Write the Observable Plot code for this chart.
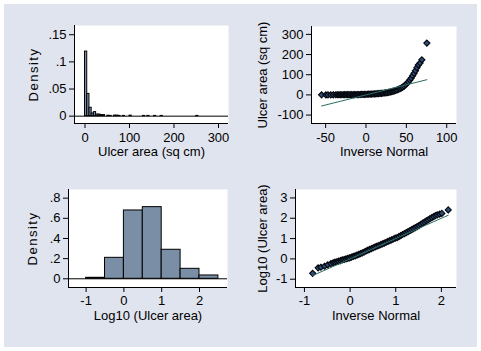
<!DOCTYPE html>
<html>
<head>
<meta charset="utf-8">
<script src="https://cdn.jsdelivr.net/npm/d3@7"></script>
<script src="https://cdn.jsdelivr.net/npm/@observablehq/plot@0.6"></script>
<style>
  html, body { margin: 0; padding: 0; background: #ffffff; }
  #wrap { position: relative; width: 481px; height: 351px; background: #ffffff; overflow: hidden; }
  #bg { position: absolute; left: 4px; top: 4px; width: 473px; height: 343px; background: #e0e4ef; }
  .panel { position: absolute; }
  #p1 { left: 0px; top: 0px; }
  #p2 { left: 240px; top: 0px; }
  #p3 { left: 0px; top: 175px; }
  #p4 { left: 240px; top: 175px; }
  #p1 g[aria-label="y-axis label"] text, #p3 g[aria-label="y-axis label"] text { letter-spacing: 1.5px; }
</style>
</head>
<body>
<div id="wrap">
  <div id="bg"></div>
  <div id="p1" class="panel"></div>
  <div id="p2" class="panel"></div>
  <div id="p3" class="panel"></div>
  <div id="p4" class="panel"></div>
</div>
<script>
// ---------- Data ----------
// Panel 1: histogram of ulcer area (sq cm), density per bin
const areaBinLo   = [0, 5, 10, 15, 20, 25, 30, 35, 40, 50, 55, 65, 70, 75, 85, 100, 130, 140, 155, 170, 250];
const areaBinHi   = [5, 10, 15, 20, 25, 30, 35, 40, 45, 55, 60, 70, 75, 80, 90, 105, 135, 145, 160, 175, 255];
const areaDensity = [0.119, 0.041, 0.0155, 0.005, 0.0075, 0.003, 0.003, 0.002, 0.002, 0.0008, 0.0005,
                     0.001, 0.001, 0.0005, 0.0005, 0.001, 0.0005, 0.0005, 0.0005, 0.0005, 0.0005];

// Panel 3: histogram of log10 ulcer area
const logBinLo   = [-1, -0.5, 0, 0.5, 1, 1.5, 2];
const logBinHi   = [-0.5, 0, 0.5, 1, 1.5, 2, 2.5];
const logDensity = [0.01, 0.208, 0.678, 0.711, 0.288, 0.099, 0.033];

// Panel 2: normal quantile plot of ulcer area
const invNormArea = [-55.0, -49.7, -47.1, -43.6, -40.5, -37.4, -35.2, -33.5, -31.7, -30.0, -28.2, -26.4,
  -24.7, -22.9, -21.2, -19.4, -17.7, -15.9, -14.2, -12.4, -10.6, -8.9, -7.1, -5.4, -3.6, -1.9, -0.1,
  1.7, 3.4, 5.1, 6.9, 8.7, 10.4, 12.2, 13.9, 15.7, 17.5, 19.2, 21.0, 22.7, 24.5, 26.2, 28.0, 29.8,
  31.5, 33.3, 35.0, 36.8, 38.5, 40.3, 42.1, 43.8, 45.6, 47.3, 49.0, 50.8, 52.6, 54.3, 56.1, 57.8,
  59.6, 61.3, 63.1, 64.8, 67.0, 69.2, 75.4];
const ulcerArea = [0.19, 0.36, 0.39, 0.44, 0.51, 0.59, 0.65, 0.69, 0.72, 0.78, 0.83, 0.89,
  0.94, 1.00, 1.07, 1.13, 1.22, 1.32, 1.41, 1.55, 1.66, 1.82, 2.00, 2.19, 2.45, 2.69, 2.95,
  3.24, 3.55, 3.89, 4.27, 4.57, 5.01, 5.50, 6.03, 6.61, 7.24, 7.94, 8.71, 9.55, 10.5, 11.2, 12.6, 14.1,
  15.8, 17.4, 19.5, 21.9, 24.5, 27.5, 30.9, 34.7, 38.9, 43.7, 50.1, 57.5, 64.6, 74.1, 83.2, 95.5,
  107, 120, 135, 148, 158, 174, 257];

// Panel 4: normal quantile plot of log10 ulcer area
const invNormLog = [-0.82, -0.70, -0.64, -0.56, -0.49, -0.42, -0.37, -0.33, -0.29, -0.25, -0.21, -0.17,
  -0.13, -0.09, -0.05, -0.01, 0.03, 0.07, 0.11, 0.15, 0.19, 0.23, 0.27, 0.31, 0.35, 0.39, 0.43,
  0.47, 0.51, 0.55, 0.59, 0.63, 0.67, 0.71, 0.75, 0.79, 0.83, 0.87, 0.91, 0.95, 0.99, 1.03, 1.07, 1.11,
  1.15, 1.19, 1.23, 1.27, 1.31, 1.35, 1.39, 1.43, 1.47, 1.51, 1.55, 1.59, 1.63, 1.67, 1.71, 1.75,
  1.79, 1.83, 1.87, 1.91, 1.96, 2.01, 2.15];
const logArea = [-0.71, -0.44, -0.41, -0.36, -0.29, -0.23, -0.19, -0.16, -0.14, -0.11, -0.08, -0.05,
  -0.03, 0.00, 0.03, 0.05, 0.09, 0.12, 0.15, 0.19, 0.22, 0.26, 0.30, 0.34, 0.39, 0.43, 0.47,
  0.51, 0.55, 0.59, 0.63, 0.66, 0.70, 0.74, 0.78, 0.82, 0.86, 0.90, 0.94, 0.98, 1.02, 1.05, 1.10, 1.15,
  1.20, 1.24, 1.29, 1.34, 1.39, 1.44, 1.49, 1.54, 1.59, 1.64, 1.70, 1.76, 1.81, 1.87, 1.92, 1.98,
  2.03, 2.08, 2.13, 2.17, 2.20, 2.24, 2.41];

// Tick values and labels
const p1XTicks = [0, 100, 200, 300],        p1XLabels = ["0", "100", "200", "300"];
const p1YTicks = [0, 0.05, 0.1, 0.15],      p1YLabels = ["0", ".05", ".1", ".15"];
const p2XTicks = [-50, 0, 50, 100],         p2XLabels = ["-50", "0", "50", "100"];
const p2YTicks = [-100, 0, 100, 200, 300],  p2YLabels = ["-100", "0", "100", "200", "300"];
const p3XTicks = [-1, 0, 1, 2],             p3XLabels = ["-1", "0", "1", "2"];
const p3YTicks = [0, 0.2, 0.4, 0.6, 0.8],   p3YLabels = ["0", ".2", ".4", ".6", ".8"];
const p4XTicks = [-1, 0, 1, 2],             p4XLabels = ["-1", "0", "1", "2"];
const p4YTicks = [-1, 0, 1, 2, 3],          p4YLabels = ["-1", "0", "1", "2", "3"];

// ---------- Styling ----------
const FONT = '"Liberation Sans", Arial, Helvetica, sans-serif';
const BAR_FILL = "#7a8ea6";
const MARK_FILL = "#2f4f80";
const REF_LINE = "#2d6e64";

const areaBins = areaBinLo.map((lo, i) => ({lo, hi: areaBinHi[i], d: areaDensity[i]}));
const logBins = logBinLo.map((lo, i) => ({lo, hi: logBinHi[i], d: logDensity[i]}));
const qArea = invNormArea.map((x, i) => ({x, y: ulcerArea[i]}));
const qLog = invNormLog.map((x, i) => ({x, y: logArea[i]}));
function refLine(xs) { const [a, b] = d3.extent(xs); return [{v: a}, {v: b}]; }

function panel(o) {
  return Plot.plot({
    width: o.w, height: o.h,
    marginLeft: o.ml, marginRight: o.mr, marginTop: o.mt, marginBottom: o.mb,
    x: {domain: o.xd},
    y: {domain: o.yd},
    style: {fontFamily: FONT, fontSize: "13px", background: "transparent", color: "black", overflow: "visible"},
    marks: [
      Plot.frame({fill: "white", stroke: null}),
      ...o.marks,
      Plot.ruleX([o.xd[0]], {stroke: "black", strokeWidth: 1}),
      Plot.ruleY([o.yd[0]], {stroke: "black", strokeWidth: 1}),
      Plot.axisX({ticks: o.xt, tickFormat: d => o.xl[o.xt.indexOf(d)], tickSize: 5, tickPadding: o.xtp,
        label: o.xLabel, labelAnchor: "center", labelOffset: o.xlo, labelArrow: "none"}),
      Plot.axisY({ticks: o.yt, tickFormat: d => o.yl[o.yt.indexOf(d)], tickSize: 5, tickPadding: 3,
        label: o.yLabel, labelAnchor: "center", labelOffset: o.ylo, labelArrow: "none"})
    ]
  });
}

const dotOpts = {x: "x", y: "y", symbol: "diamond2", r: 2.7, fill: MARK_FILL, stroke: "#05070c", strokeWidth: 1.2};

document.getElementById("p1").append(panel({
  w: 240, h: 175, ml: 74, mr: 12, mt: 25, mb: 52,
  xd: [-23.6, 322.5], yd: [-0.0135, 0.167],
  xt: p1XTicks, xl: p1XLabels, yt: p1YTicks, yl: p1YLabels,
  xLabel: "Ulcer area (sq cm)", yLabel: "Density", xtp: 4, xlo: 32, ylo: 46,
  marks: [
    Plot.rectY(areaBins, {x1: "lo", x2: "hi", y: "d", fill: BAR_FILL, stroke: "black", strokeWidth: 1}),
    Plot.ruleY([0], {stroke: "black", strokeWidth: 1})
  ]
}));

document.getElementById("p2").append(panel({
  w: 241, h: 175, ml: 71, mr: 25, mt: 26, mb: 52,
  xd: [-67.5, 112.1], yd: [-141.8, 339.1],
  xt: p2XTicks, xl: p2XLabels, yt: p2YTicks, yl: p2YLabels,
  xLabel: "Inverse Normal", yLabel: "Ulcer area (sq cm)", xtp: 4, xlo: 32, ylo: 53.5,
  marks: [
    Plot.dot(qArea, dotOpts),
    Plot.line(refLine(invNormArea), {x: "v", y: "v", stroke: REF_LINE, strokeWidth: 1})
  ]
}));

document.getElementById("p3").append(panel({
  w: 240, h: 176, ml: 68, mr: 13, mt: 14, mb: 64,
  xd: [-1.466, 2.741], yd: [-0.0864, 0.886],
  xt: p3XTicks, xl: p3XLabels, yt: p3YTicks, yl: p3YLabels,
  xLabel: "Log10 (Ulcer area)", yLabel: "Density", xtp: 3, xlo: 32, ylo: 40.7,
  marks: [
    Plot.rectY(logBins, {x1: "lo", x2: "hi", y: "d", fill: BAR_FILL, stroke: "black", strokeWidth: 1}),
    Plot.ruleY([0], {stroke: "black", strokeWidth: 1})
  ]
}));

document.getElementById("p4").append(panel({
  w: 241, h: 176, ml: 55, mr: 25, mt: 14, mb: 64,
  xd: [-1.196, 2.331], yd: [-1.407, 3.415],
  xt: p4XTicks, xl: p4XLabels, yt: p4YTicks, yl: p4YLabels,
  xLabel: "Inverse Normal", yLabel: "Log10 (Ulcer area)", xtp: 3, xlo: 32.5, ylo: 38,
  marks: [
    Plot.dot(qLog, dotOpts),
    Plot.line(refLine(invNormLog), {x: "v", y: "v", stroke: REF_LINE, strokeWidth: 1})
  ]
}));
</script>
</body>
</html>
